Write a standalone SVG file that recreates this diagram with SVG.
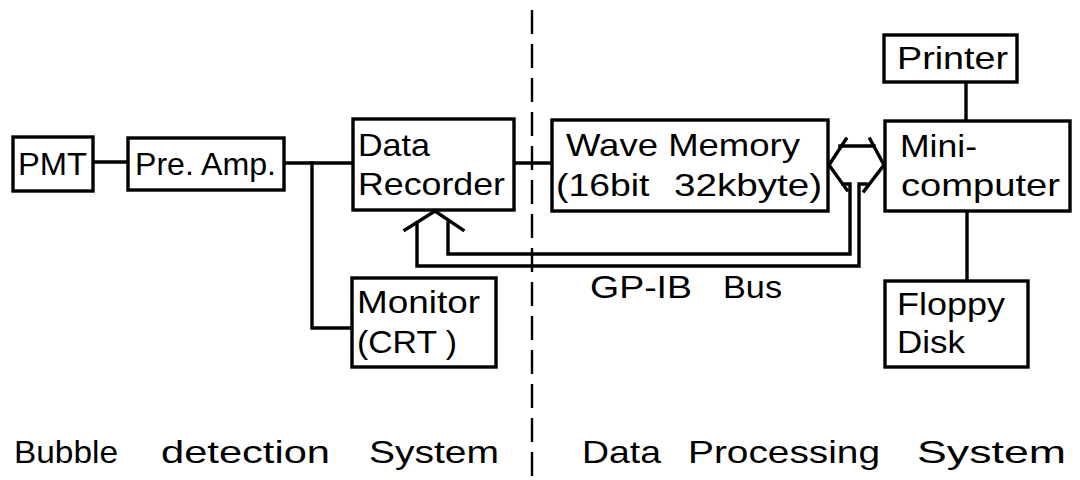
<svg xmlns="http://www.w3.org/2000/svg" width="1080" height="480" viewBox="0 0 1080 480">
<style>
.box{fill:#fff;stroke:#000;stroke-width:3.4}
.ln{fill:none;stroke:#000;stroke-width:3.4;stroke-linejoin:miter;stroke-linecap:square}
.t{font-family:"Liberation Sans",Arial,sans-serif;font-size:32px;fill:#000}
.dash{fill:none;stroke:#000;stroke-width:2.4;stroke-dasharray:24 10}
</style>
<rect width="1080" height="480" fill="#fff"/>
<g id="connectors">
<line class="dash" x1="532" y1="10" x2="532" y2="478"/>
<line class="ln" x1="93" y1="162" x2="128" y2="162"/>
<line class="ln" x1="284" y1="163" x2="353" y2="163"/>
<polyline class="ln" points="312,163 312,328 352,328"/>
<line class="ln" x1="514" y1="163" x2="552" y2="163"/>
<line class="ln" x1="966" y1="82" x2="966" y2="121"/>
<line class="ln" x1="967" y1="211" x2="967" y2="281"/>
<polyline class="ln" points="405,230 435,211 463,230"/>
<polyline class="ln" points="417,223 417,266 859,266 859,184 866,184"/>
<polyline class="ln" points="448,223 448,254 850,254 850,184 843,184"/>
<polyline class="ln" points="846,139 829,165 847,190"/>
<polyline class="ln" points="870,139 884,165 864,191"/>
<line class="ln" x1="840" y1="146" x2="874" y2="146"/>
</g>
<g id="pmt"><rect class="box" x="13" y="137" width="80" height="54"/><text class="t" x="18" y="175" textLength="69" lengthAdjust="spacingAndGlyphs">PMT</text></g>
<g id="preamp"><rect class="box" x="128" y="138" width="156" height="52"/><text class="t" x="135" y="175" textLength="141" lengthAdjust="spacingAndGlyphs">Pre. Amp.</text></g>
<g id="recorder"><rect class="box" x="353" y="119" width="161" height="91"/><text class="t" x="358" y="156" textLength="72" lengthAdjust="spacingAndGlyphs">Data</text><text class="t" x="358" y="195" textLength="147" lengthAdjust="spacingAndGlyphs">Recorder</text></g>
<g id="monitor"><rect class="box" x="352" y="278" width="144" height="89"/><text class="t" x="357" y="313" textLength="123" lengthAdjust="spacingAndGlyphs">Monitor</text><text class="t" x="357" y="353" textLength="100" lengthAdjust="spacingAndGlyphs">(CRT )</text></g>
<g id="wavememory"><rect class="box" x="552" y="120" width="276" height="91"/><text class="t" x="566" y="156" textLength="234" lengthAdjust="spacingAndGlyphs">Wave Memory</text><text class="t" x="556" y="196" textLength="266" lengthAdjust="spacingAndGlyphs"><tspan>(16bit</tspan><tspan x="674" textLength="148" lengthAdjust="spacingAndGlyphs">32kbyte)</tspan></text></g>
<g id="printer"><rect class="box" x="884" y="35" width="133" height="47"/><text class="t" x="897" y="69" textLength="111" lengthAdjust="spacingAndGlyphs">Printer</text></g>
<g id="minicomputer"><rect class="box" x="885" y="121" width="185" height="90"/><text class="t" x="900" y="157" textLength="77" lengthAdjust="spacingAndGlyphs">Mini-</text><text class="t" x="901" y="196" textLength="159" lengthAdjust="spacingAndGlyphs">computer</text></g>
<g id="floppy"><rect class="box" x="885" y="281" width="143" height="86"/><text class="t" x="897" y="315" textLength="108" lengthAdjust="spacingAndGlyphs">Floppy</text><text class="t" x="897" y="353" textLength="68" lengthAdjust="spacingAndGlyphs">Disk</text></g>
<g id="labels">
<text class="t" x="590" y="298"><tspan textLength="102" lengthAdjust="spacingAndGlyphs">GP-IB</tspan><tspan x="723" textLength="59" lengthAdjust="spacingAndGlyphs">Bus</tspan></text>
<text class="t" y="463"><tspan x="14" textLength="104" lengthAdjust="spacingAndGlyphs">Bubble</tspan><tspan x="161" textLength="169" lengthAdjust="spacingAndGlyphs">detection</tspan><tspan x="369" textLength="130" lengthAdjust="spacingAndGlyphs">System</tspan></text>
<text class="t" y="463"><tspan x="582" textLength="79" lengthAdjust="spacingAndGlyphs">Data</tspan><tspan x="688" textLength="192" lengthAdjust="spacingAndGlyphs">Processing</tspan><tspan x="917" textLength="149" lengthAdjust="spacingAndGlyphs">System</tspan></text>
</g>
</svg>
